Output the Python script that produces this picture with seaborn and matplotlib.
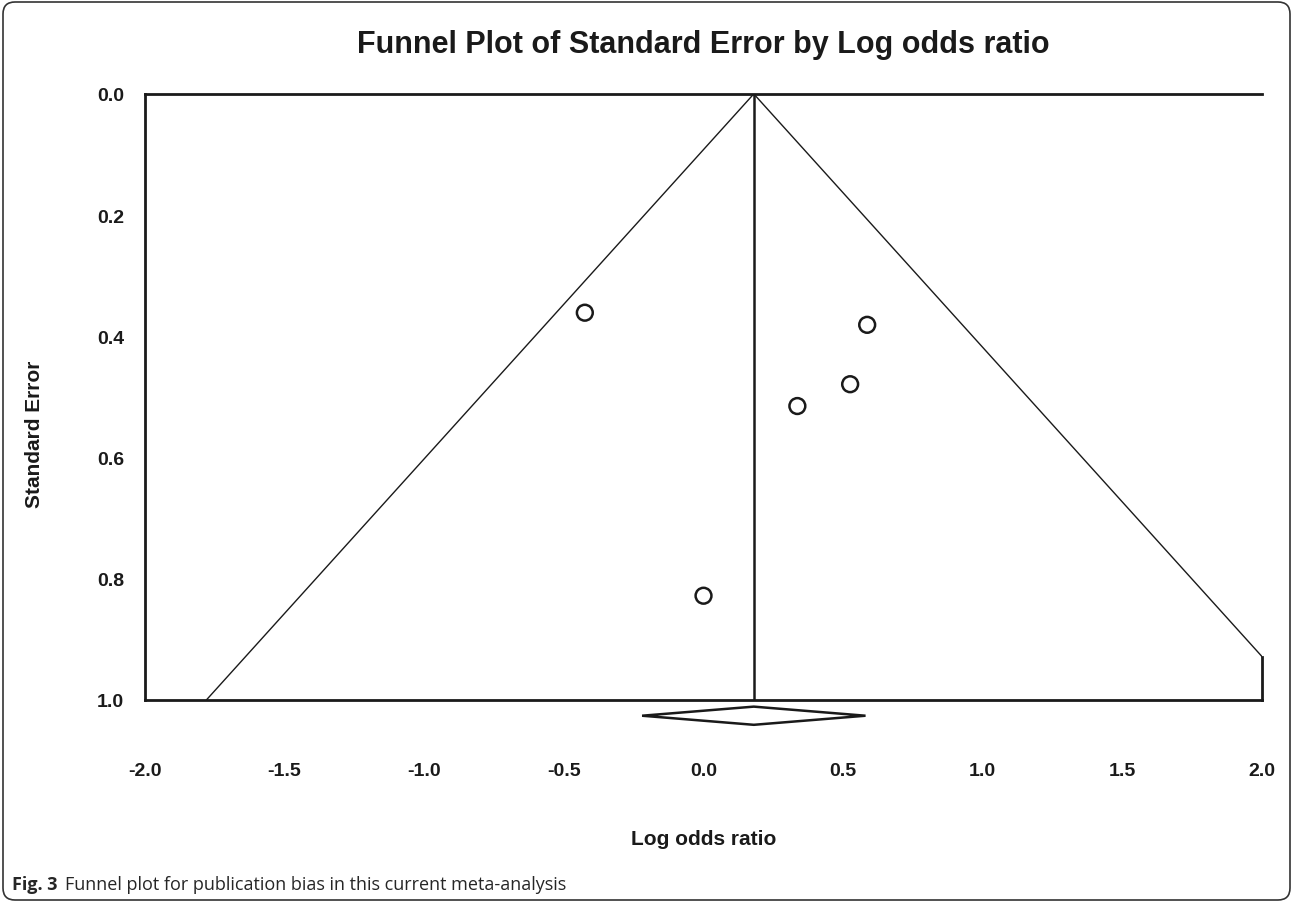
import numpy as np
import pandas as pd
import seaborn as sns
import matplotlib.pyplot as plt
from matplotlib.patches import FancyBboxPatch, Polygon

# study estimates
log_or = [-0.425, 0.586, 0.525, 0.336, 0.0]
std_err = [0.361, 0.381, 0.479, 0.515, 0.828]

# pooled estimate and its confidence interval (diamond)
pooled = 0.18
ci_low = -0.22
ci_high = 0.58

x_ticks = [-2.0, -1.5, -1.0, -0.5, 0.0, 0.5, 1.0, 1.5, 2.0]
y_ticks = [0.0, 0.2, 0.4, 0.6, 0.8, 1.0]

sns.set_theme(style='white')
narrow = ['Liberation Sans Narrow', 'Liberation Sans', 'DejaVu Sans']
plt.rcParams['font.family'] = narrow

fig = plt.figure(figsize=(12.93, 9.04), dpi=100)
ax = fig.add_axes([0.1121, 0.2246, 0.8640, 0.6704])

df = pd.DataFrame({'log_or': log_or, 'se': std_err})

# funnel (pseudo 95% limits)
se_line = np.array([0.0, 1.0])
ax.plot(pooled - 1.96 * se_line, se_line, color='k', lw=1.0)
ax.plot(pooled + 1.96 * se_line, se_line, color='k', lw=1.0)
ax.axvline(pooled, color='k', lw=1.8)

sns.scatterplot(data=df, x='log_or', y='se', ax=ax, marker='o', s=130,
                facecolor='none', edgecolor='k', linewidth=1.8, zorder=3)

# pooled diamond under the axis
d_mid, d_h = 1.026, 0.015
diamond = Polygon([(ci_low, d_mid), (pooled, d_mid - d_h), (ci_high, d_mid),
                   (pooled, d_mid + d_h)], closed=True, fill=False,
                  edgecolor='k', lw=1.8, clip_on=False)
ax.add_patch(diamond)

ax.set_xlim(-2.0, 2.0)
ax.set_ylim(1.0, 0.0)
ax.set_xticks(x_ticks)
ax.set_yticks(y_ticks)
ax.set_xticklabels([f'{t:.1f}' for t in x_ticks], fontweight='bold', fontsize=14)
ax.set_yticklabels([f'{t:.1f}' for t in y_ticks], fontweight='bold', fontsize=14)
ax.tick_params(axis='x', direction='inout', length=7, width=1.5, pad=41, colors='k')
ax.tick_params(axis='y', direction='out', length=3, width=1.5, pad=12, colors='k')

for s in ['top', 'left', 'bottom']:
    ax.spines[s].set_color('k')
    ax.spines[s].set_linewidth(2)
ax.spines['right'].set_color('k')
ax.spines['right'].set_linewidth(2)
ax.spines['right'].set_bounds((2.0 - pooled) / 1.96, 1.0)

ax.set_xlabel('Log odds ratio', fontweight='bold', fontsize=15, labelpad=36, color='k')
ax.set_ylabel('Standard Error', fontweight='bold', fontsize=15, color='k')
ax.yaxis.set_label_coords(-0.09, 0.44)
ax.set_title('Funnel Plot of Standard Error by Log odds ratio', fontweight='bold',
             fontsize=22, pad=30, color='k')

# caption and rounded frame
cap_font = ['Open Sans', 'DejaVu Sans']
fig.text(12 / 1293, 1 - 890 / 904, 'Fig. 3', fontweight='bold', fontsize=13,
         family=cap_font, va='baseline')
fig.text(65 / 1293, 1 - 890 / 904, 'Funnel plot for publication bias in this current meta-analysis',
         fontsize=13, family=cap_font, va='baseline')
frame = FancyBboxPatch((0.03, 0.03), 12.87, 8.98, boxstyle='round,pad=0,rounding_size=0.12',
                       transform=fig.dpi_scale_trans, fill=False, edgecolor='#333333', lw=1.2)
fig.patches.append(frame)

fig.savefig('out.png', dpi=100)
